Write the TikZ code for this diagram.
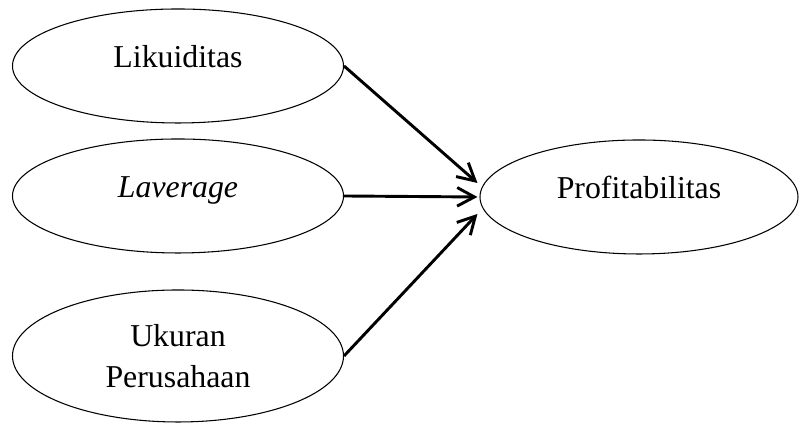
\documentclass[tikz,border=0pt]{standalone}
\usepackage{fontspec}
\setmainfont{Liberation Serif}
\usetikzlibrary{shapes.geometric,arrows.meta}

\begin{document}
\begin{tikzpicture}[x=0.377pt,y=0.377pt,
    font=\fontsize{12}{15.5}\selectfont,
    var/.style={ellipse,draw,line width=0.4pt,inner sep=0pt,
        minimum width=331*0.377pt,minimum height=114*0.377pt,text depth=7pt},
    effect/.style={->,line width=1.1pt,
        >={Straight Barb[length=6.5pt,width=7pt,line width=1.1pt]}}]
    \useasboundingbox (0,0) rectangle (799,423);

    % variabel independen
    \node[var] (likuid) at (178,357) {Likuiditas};
    \node[var] (lev) at (178,227) {\textit{Laverage}};
    \node[var,minimum height=132*0.377pt,text depth=,align=center] (ukuran) at (178,67) {Ukuran\\Perusahaan};
    % variabel dependen
    \node[var,minimum width=318*0.377pt] (profit) at (639,226) {Profitabilitas};

    \draw[effect] (likuid.east) -- ([shift={(-2,14)}]profit.west);
    \draw[effect] (lev.east) -- ([shift={(-2,0)}]profit.west);
    \draw[effect] (ukuran.east) -- ([shift={(-2,-17)}]profit.west);
\end{tikzpicture}
\end{document}
